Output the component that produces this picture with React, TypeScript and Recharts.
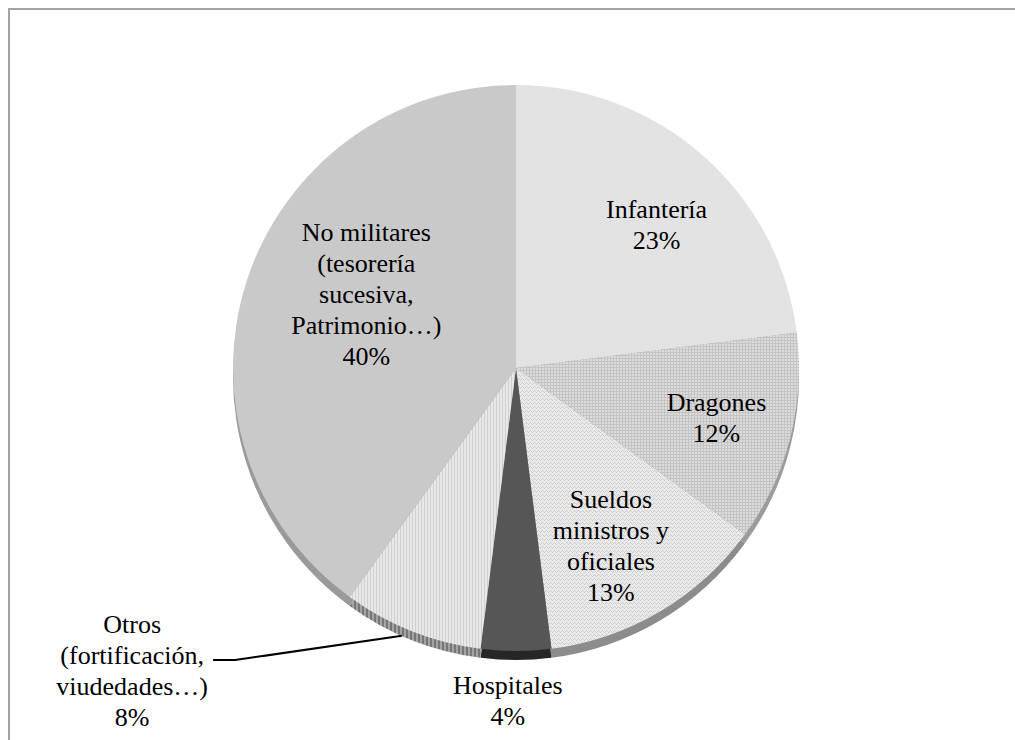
import React from "react";
import { PieChart, Pie, Cell } from "recharts";

// categorías (sentido horario desde las 12)
const categories = [
  "Infantería",
  "Dragones",
  "Sueldos\nministros y\noficiales",
  "Hospitales",
  "Otros\n(fortificación,\nviudedades…)",
  "No militares\n(tesorería\nsucesiva,\nPatrimonio…)",
];
const shares = [23, 12, 13, 4, 8, 40];

const fills = [
  "url(#pInf)",
  "url(#pDrag)",
  "url(#pSuel)",
  "#565656",
  "url(#pOtros)",
  "#c9c9c9",
];
const sideFills = ["#a8a8a8", "#9c9c9c", "#8c8c8c", "#262626", "url(#pOtrosSide)", "#9a9a9a"];

// ajuste de la posición de cada etiqueta: desplazamiento angular y radio relativo
const labelPlace = [
  { dAngle: -3, r: 0.71 },
  { dAngle: 0.4, r: 0.73 },
  { dAngle: -2.4, r: 0.71 },
  { dAngle: -1.4, r: 1.177 },
  { dAngle: -30.2, r: 1.726 },
  { dAngle: -8.3, r: 0.59 },
];

const data = categories.map((name, i) => ({ name, value: shares[i] }));

const RAD = Math.PI / 180;
const FONT = "Liberation Serif, Times New Roman, serif";
const LINE_H = 31;

const renderLabel = (props: any) => {
  const { cx, cy, midAngle, outerRadius, index, percent, name } = props;
  const place = labelPlace[index];
  const a = (midAngle + place.dAngle) * RAD;
  const r = outerRadius * place.r;
  const x = cx + r * Math.cos(a);
  const y = cy - r * Math.sin(a);
  const lines = [...String(name).split("\n"), `${Math.round(percent * 100)}%`];
  const y0 = y - ((lines.length - 1) * LINE_H) / 2;

  let leader = null;
  if (index === 4) {
    const la = (midAngle - 1.5) * RAD;
    const sx = cx + (outerRadius + 8) * Math.cos(la);
    const sy = cy - (outerRadius + 8) * Math.sin(la);
    leader = (
      <polyline
        points={`${sx},${sy} ${x + 103},${y - 10} ${x + 81},${y - 10}`}
        fill="none"
        stroke="#000"
        strokeWidth={2}
      />
    );
  }

  return (
    <g key={`lbl-${index}`}>
      {leader}
      <text
        x={x}
        y={y0}
        textAnchor="middle"
        dominantBaseline="central"
        fontFamily={FONT}
        fontSize={26}
        fill="#000"
      >
        {lines.map((t, i) => (
          <tspan key={i} x={x} y={y0 + i * LINE_H}>
            {t}
          </tspan>
        ))}
      </text>
    </g>
  );
};

export default function App() {
  return (
    <div
      style={{
        position: "fixed",
        left: 8,
        top: 8,
        width: 1007,
        height: 732,
        overflow: "hidden",
      }}
    >
      <div
        style={{
          width: 1040,
          height: 760,
          borderTop: "2px solid #a3a3a3",
          borderLeft: "2px solid #a3a3a3",
          background: "#fff",
        }}
      >
        <PieChart width={1005} height={730} margin={{ top: 0, right: 0, bottom: 0, left: 0 }}>
          <defs>
            <pattern id="pInf" width="2" height="2" patternUnits="userSpaceOnUse">
              <rect width="2" height="2" fill="#e4e4e4" />
              <rect width="1" height="1" fill="#dedede" />
            </pattern>
            <pattern id="pDrag" width="3" height="3" patternUnits="userSpaceOnUse">
              <rect width="3" height="3" fill="#dcdcdc" />
              <rect width="3" height="1" fill="#c4c4c4" />
              <rect width="1" height="3" fill="#c4c4c4" />
            </pattern>
            <pattern id="pSuel" width="4" height="4" patternUnits="userSpaceOnUse">
              <rect width="4" height="4" fill="#e9e9e9" />
              <rect x="0" y="0" width="1" height="1" fill="#cacaca" />
              <rect x="1" y="1" width="1" height="1" fill="#d2d2d2" />
              <rect x="2" y="2" width="1" height="1" fill="#cacaca" />
              <rect x="3" y="1" width="1" height="1" fill="#d2d2d2" />
            </pattern>
            <pattern id="pOtros" width="3" height="3" patternUnits="userSpaceOnUse">
              <rect width="3" height="3" fill="#e8e8e8" />
              <rect width="1" height="3" fill="#d0d0d0" />
            </pattern>
            <pattern id="pOtrosSide" width="4" height="4" patternUnits="userSpaceOnUse">
              <rect width="4" height="4" fill="#a4a4a4" />
              <rect width="2" height="4" fill="#767676" />
            </pattern>
          </defs>
          {/* canto inferior (efecto 3D) */}
          <Pie
            data={data}
            dataKey="value"
            nameKey="name"
            cx={506}
            cy={367}
            outerRadius={283}
            startAngle={90}
            endAngle={-270}
            stroke="none"
            isAnimationActive={false}
          >
            {data.map((d, i) => (
              <Cell key={d.name} fill={sideFills[i]} />
            ))}
          </Pie>
          <Pie
            data={data}
            dataKey="value"
            nameKey="name"
            cx={506}
            cy={358}
            outerRadius={283}
            startAngle={90}
            endAngle={-270}
            stroke="none"
            label={renderLabel}
            labelLine={false}
            isAnimationActive={false}
          >
            {data.map((d, i) => (
              <Cell key={d.name} fill={fills[i]} />
            ))}
          </Pie>
        </PieChart>
      </div>
    </div>
  );
}
